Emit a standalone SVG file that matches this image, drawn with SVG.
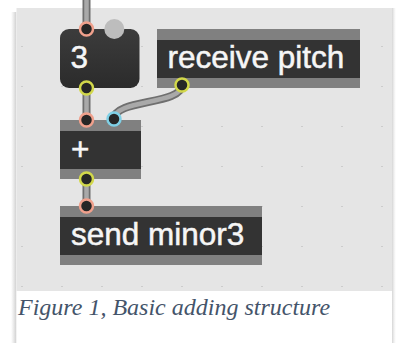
<svg xmlns="http://www.w3.org/2000/svg" width="396" height="343" viewBox="0 0 396 343">
  <defs>
    <style>
      .band { fill: #808080; }
      .body { fill: #333333; }
      .label { font-family: "Liberation Sans", Arial, Helvetica, sans-serif; font-size: 31.5px; fill: #f6f6f6; stroke: #f6f6f6; stroke-width: 0.5; }
      .dot { fill: #b8b8b8; }
      .cable-out { fill: none; stroke: #6f6f6f; stroke-width: 8; stroke-linecap: round; }
      .cable-in { fill: none; stroke: #a9a9a9; stroke-width: 4.5; stroke-linecap: round; }
      .port { fill: #262626; stroke-width: 2.5; }
      .inlet { stroke: #f0a08c; }
      .inlet-cold { stroke: #7fd0e6; }
      .outlet { stroke: #d2d84a; }
      .caption { font-family: "Liberation Serif", "Times New Roman", serif; font-style: italic; font-size: 24px; fill: #44546a; }
    </style>
    <linearGradient id="shadowLeft" x1="0" y1="0" x2="1" y2="0">
      <stop offset="0" stop-color="#d0d0d0" stop-opacity="0"/>
      <stop offset="1" stop-color="#c8c8c8" stop-opacity="0.9"/>
    </linearGradient>
    <linearGradient id="shadowRight" x1="0" y1="0" x2="1" y2="0">
      <stop offset="0" stop-color="#d4d4d4"/>
      <stop offset="1" stop-color="#e8e8e8" stop-opacity="0"/>
    </linearGradient>
    <linearGradient id="numFill" x1="0" y1="0" x2="0" y2="1">
      <stop offset="0" stop-color="#3c3c3c"/>
      <stop offset="1" stop-color="#2b2b2b"/>
    </linearGradient>
    <pattern id="grid" x="2" y="7" width="40" height="40" patternUnits="userSpaceOnUse">
      <rect x="19.25" y="39.25" width="1.5" height="1.5" class="dot"/>
    </pattern>
  </defs>

  <!-- page -->
  <rect width="396" height="343" fill="#ffffff"/>
  <rect x="11" y="12" width="5.5" height="331" fill="url(#shadowLeft)"/>
  <rect x="392" y="8" width="4" height="335" fill="url(#shadowRight)"/>
  <rect x="16.5" y="8" width="375.5" height="335" fill="#ffffff"/>

  <!-- patcher canvas -->
  <rect x="16.5" y="8" width="375.5" height="283" fill="#e5e5e5"/>
  <rect x="16.5" y="8" width="375.5" height="283" fill="url(#grid)"/>

  <!-- patch cords -->
  <g id="connectors">
    <path class="cable-out" d="M86.5,-4 L86.5,29"/>
    <path class="cable-in" d="M86.5,-4 L86.5,29"/>
    <path class="cable-out" d="M86.5,88 L86.5,120"/>
    <path class="cable-in" d="M86.5,88 L86.5,120"/>
    <path class="cable-out" d="M182,85 C182,105 114,99 114,119"/>
    <path class="cable-in" d="M182,85 C182,105 114,99 114,119"/>
    <path class="cable-out" d="M86.5,179 L86.5,206"/>
    <path class="cable-in" d="M86.5,179 L86.5,206"/>
  </g>

  <!-- number box -->
  <g id="number">
    <rect x="60" y="29" width="79.5" height="59" rx="9" fill="url(#numFill)"/>
    <circle cx="114.3" cy="29" r="10" fill="#bdbdbd"/>
    <text class="label" x="70.5" y="68.3">3</text>
    <circle class="port inlet" cx="86.5" cy="29" r="6.5"/>
    <circle class="port outlet" cx="86.5" cy="88" r="6.5"/>
  </g>

  <!-- receive object -->
  <g id="receive">
    <rect class="band" x="157" y="29" width="203" height="59"/>
    <rect class="body" x="157" y="40" width="203" height="38"/>
    <text class="label" x="167.5" y="68.3">receive pitch</text>
    <circle class="port outlet" cx="182" cy="85" r="6.5"/>
  </g>

  <!-- plus object -->
  <g id="plus">
    <rect class="band" x="60" y="120" width="81" height="59"/>
    <rect class="body" x="60" y="131" width="81" height="38"/>
    <text class="label" x="71" y="160">+</text>
    <circle class="port inlet" cx="86.5" cy="120" r="6.5"/>
    <circle class="port inlet-cold" cx="114" cy="119" r="6.5"/>
    <circle class="port outlet" cx="86.5" cy="179" r="6.5"/>
  </g>

  <!-- send object -->
  <g id="send">
    <rect class="band" x="60" y="206" width="202" height="59"/>
    <rect class="body" x="60" y="217" width="202" height="38"/>
    <text class="label" x="71" y="245">send minor3</text>
    <circle class="port inlet" cx="86.5" cy="206" r="6.5"/>
  </g>

  <!-- caption -->
  <text class="caption" x="18" y="315">Figure 1, Basic adding structure</text>
</svg>
